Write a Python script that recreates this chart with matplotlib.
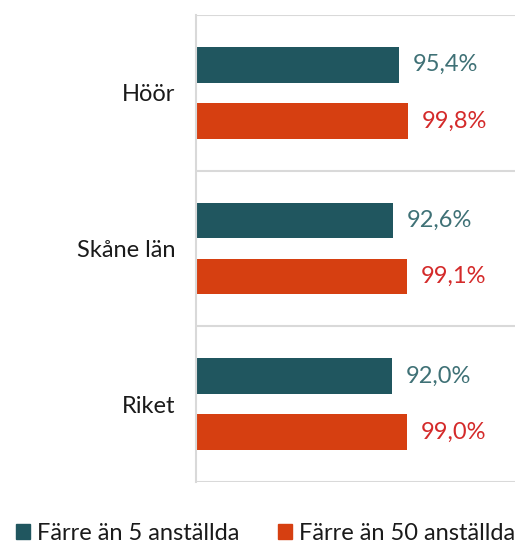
import matplotlib
matplotlib.use("Agg")
import matplotlib.pyplot as plt
from matplotlib import font_manager
from matplotlib.patches import Patch
import numpy as np

categories = ["Höör", "Skåne län", "Riket"]
series_names = ["Färre än 5 anställda", "Färre än 50 anställda"]
few5 = [95.4, 92.6, 92.0]
few50 = [99.8, 99.1, 99.0]

avail = {f.name for f in font_manager.fontManager.ttflist}
fam = None
for c in ["Lato", "Open Sans", "Noto Sans", "DejaVu Sans"]:
    if c in avail:
        fam = c
        break
plt.rcParams['font.family'] = [fam, 'DejaVu Sans']
WEIGHT = 'normal'

bar_cols = ["#20565f", "#d63f11"]
txt_cols = ["#3f7176", "#d42a2a"]

fig = plt.figure(figsize=(5.27, 5.47), dpi=100)
ax = fig.add_axes([196/527, 1-482/547, (515-196)/527, (482-15)/547])

y = np.arange(len(categories))
off = 0.18
h = 0.23
for vals, dy, bc, tc in [(few5, -off, bar_cols[0], txt_cols[0]), (few50, off, bar_cols[1], txt_cols[1])]:
    ax.barh(y + dy, vals, height=h, color=bc)
    for yi, v in zip(y, vals):
        ax.annotate(f"{v:.1f}%".replace(".", ","), (v, yi + dy), xytext=(10, 0),
                    textcoords="offset points", va="center", ha="left",
                    color=tc, fontsize=17, fontweight=WEIGHT)

ax.set_xlim(0, 150)
ax.set_ylim(len(categories) - 0.5, -0.5)
ax.set_yticks(y)
ax.set_yticklabels(categories, fontsize=17, fontweight=WEIGHT, color="#1a1a1a")
ax.tick_params(axis='y', length=0, pad=15)
ax.set_xticks([])
for b in np.arange(-0.5, len(categories), 1.0):
    ax.axhline(b, color="#d9d9d9", lw=1.5, zorder=0)
for s in ["top", "right", "bottom"]:
    ax.spines[s].set_visible(False)
ax.spines["left"].set_color("#d9d9d9")
ax.spines["left"].set_linewidth(1.5)

handles = [Patch(color=bar_cols[0], label=series_names[0]),
           Patch(color=bar_cols[1], label=series_names[1])]
leg = fig.legend(handles=handles, loc="center", bbox_to_anchor=(0.504, 1-533/547),
                 ncol=2, frameon=False, handlelength=0.6, handleheight=0.6,
                 handletextpad=0.3, columnspacing=1.6,
                 prop={'size': 17, 'weight': WEIGHT})
for t in leg.get_texts():
    t.set_color("#1a1a1a")

fig.savefig("out.png", dpi=100)
